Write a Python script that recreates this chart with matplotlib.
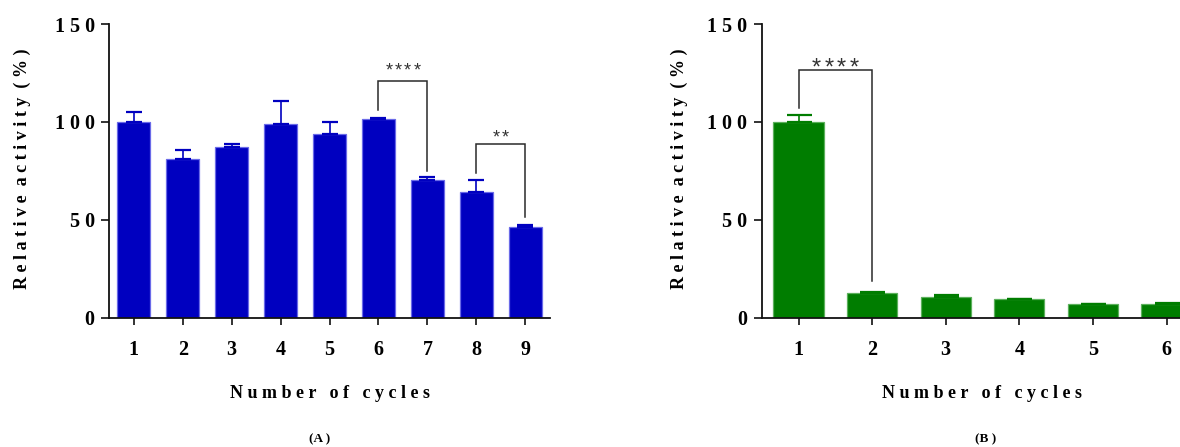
import matplotlib
matplotlib.use("Agg")
import matplotlib.pyplot as plt
import numpy as np

# Reusability data: relative activity (%) after each cycle, mean and upper SD
cycles_a = ["1", "2", "3", "4", "5", "6", "7", "8", "9"]
activity_a = [100.0, 81.3, 87.1, 99.1, 93.7, 101.5, 70.4, 64.1, 46.1]
sd_a = [5.0, 4.1, 1.8, 11.8, 6.0, 0.7, 1.5, 6.3, 1.0]

cycles_b = ["1", "2", "3", "4", "5", "6"]
activity_b = [100.0, 12.8, 10.7, 9.3, 7.0, 7.1]
sd_b = [3.7, 0.3, 0.9, 0.3, 0.2, 0.3]

# Significance brackets:
# (left bar, right bar, left leg end, top, right leg end, star height, number of stars)
brackets_a = [(6, 7, 106.0, 121.0, 75.0, 129.0, 4),
              (8, 9, 73.7, 88.6, 51.6, 95.0, 2)]
brackets_b = [(1, 2, 106.9, 126.5, 18.5, 131.2, 4)]

y_ticks = [0, 50, 100, 150]
y_ticklabels = ["0", "5 0", "1 0 0", "1 5 0"]

SERIF = "Liberation Serif"
W, H = 1180, 447

fig = plt.figure(figsize=(W / 100, H / 100), dpi=100)


def spaced(s):
    return " ".join(s)


def panel(rect, cats, vals, errs, brackets, face, edge, capsize, star_size, star_pitch):
    ax = fig.add_axes(rect)
    n = len(cats)
    x = np.arange(1, n + 1)
    ax.bar(x, vals, width=0.68, color=face, edgecolor=edge, linewidth=0.9, zorder=2)
    ax.errorbar(x, vals, yerr=[np.zeros(n), errs], fmt="none",
                ecolor=face, elinewidth=1.2, capsize=capsize, capthick=1.6, zorder=3)
    ax.set_xlim(0.5, n + 0.5)
    ax.set_ylim(0, 150)
    ax.set_xticks(x)
    ax.set_xticklabels(cats)
    ax.set_yticks(y_ticks)
    ax.set_yticklabels(y_ticklabels)
    for side in ("top", "right"):
        ax.spines[side].set_visible(False)
    for side in ("left", "bottom"):
        ax.spines[side].set_linewidth(1.3)
        ax.spines[side].set_color("#111111")
    ax.tick_params(axis="y", length=5.5, width=1.2, pad=5, color="#111111")
    ax.tick_params(axis="x", length=5.0, width=1.2, pad=11, color="#111111")
    for lab in ax.get_xticklabels() + ax.get_yticklabels():
        lab.set_fontfamily(SERIF)
        lab.set_fontweight("bold")
        lab.set_fontsize(14.5)

    # pixel -> data conversions for star placement
    x_per_px = n / (rect[2] * W)
    y_per_px = 150 / (rect[3] * H)
    star_px = star_size * 100 / 72
    for (i, j, yl, yt, yr, ys, nstars) in brackets:
        ax.plot([i, i, j, j], [yl, yt, yt, yr], color="#2a2a2a", lw=1.1,
                solid_joinstyle="miter", zorder=4)
        xc = (i + j) / 2
        base = ys - 0.585 * star_px * y_per_px
        for k in range(nstars):
            xs = xc + (k - (nstars - 1) / 2) * star_pitch * x_per_px
            ax.text(xs, base, "*", ha="center", va="baseline",
                    fontsize=star_size, family="Liberation Sans", color="#333333")
    return ax


ax_bottom = 1 - 317.7 / H
ax_height = (317.7 - 24) / H
ax_a = panel([109.3 / W, ax_bottom, 440.5 / W, ax_height], cycles_a, activity_a, sd_a,
             brackets_a, "#0000C0", "#6a6ae8", 6.0, 13, 9.3)
ax_b = panel([761.7 / W, ax_bottom, 441.6 / W, ax_height], cycles_b, activity_b, sd_b,
             brackets_b, "#007D00", "#5cb05c", 9.0, 17, 12.8)

label_kw = dict(family=SERIF, fontweight="bold", fontsize=13, ha="center", va="center")
ylab = spaced("Relative") + "  " + spaced("activity") + "  " + spaced("(%)")
xlab = spaced("Number") + "   " + spaced("of") + "   " + spaced("cycles")

fig.text(22 / W, 1 - 169 / H, ylab, rotation=90, **label_kw)
fig.text(679 / W, 1 - 169 / H, ylab, rotation=90, **label_kw)
fig.text(329.5 / W, 1 - 393.3 / H, xlab, **label_kw)
fig.text(982 / W, 1 - 393.3 / H, xlab, **label_kw)

tag_kw = dict(family=SERIF, fontweight="bold", fontsize=9.5, ha="center", va="center")
fig.text(320 / W, 1 - 439 / H, "(A )", **tag_kw)
fig.text(986 / W, 1 - 439 / H, "(B )", **tag_kw)

fig.savefig("out.png", dpi=100)
